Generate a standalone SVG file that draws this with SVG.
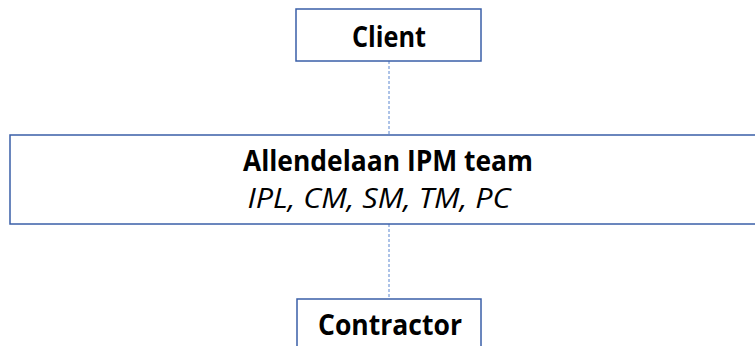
<svg xmlns="http://www.w3.org/2000/svg" width="755" height="346" viewBox="0 0 755 346">
<style>
.box{fill:#fff;stroke:#3A5FA8;stroke-width:1.5}
.t{font-family:"Open Sans","Liberation Sans",sans-serif;fill:#000;text-anchor:middle}
.b{font-weight:bold;font-size:28px}
.i{font-style:italic;font-size:28px}
.c{stroke:#5B86D0;stroke-width:1;stroke-dasharray:3,2;fill:none}
</style>
<rect width="755" height="346" fill="#fff"/>
<g id="connectors">
<line class="c" x1="389" y1="61" x2="389" y2="135"/>
<line class="c" x1="389" y1="224" x2="389" y2="299"/>
</g>
<g id="client">
<rect class="box" x="296" y="9" width="185" height="52"/>
<text class="t b" x="389" y="47" textLength="74" lengthAdjust="spacingAndGlyphs">Client</text>
</g>
<g id="ipm">
<rect class="box" x="10" y="135" width="758" height="89"/>
<text class="t b" x="388" y="171" textLength="290" lengthAdjust="spacingAndGlyphs">Allendelaan IPM team</text>
<text class="t i" x="379" y="208" textLength="263" lengthAdjust="spacingAndGlyphs">IPL, CM, SM, TM, PC</text>
</g>
<g id="contractor">
<rect class="box" x="297" y="299" width="184" height="60"/>
<text class="t b" x="390" y="335" textLength="144" lengthAdjust="spacingAndGlyphs">Contractor</text>
</g>
</svg>
